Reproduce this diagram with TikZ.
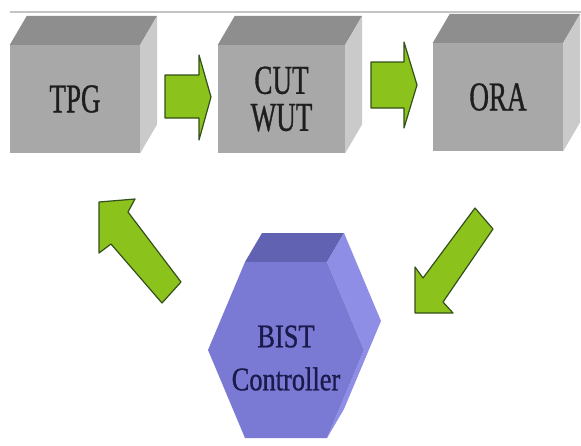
\documentclass[tikz,border=0pt]{standalone}
\usepackage{fontspec}
\usepackage{tikz}
\usetikzlibrary{arrows,positioning,calc}
\newfontfamily\policeboite[FakeStretch=0.66,FakeBold=0.8]{Liberation Serif}
\newfontfamily\policehexa[FakeStretch=0.8,FakeBold=0.8]{Liberation Serif}
\definecolor{grisface}{HTML}{A8A8A8}
\definecolor{grisdessus}{HTML}{8E8E8E}
\definecolor{griscote}{HTML}{CACACA}
\definecolor{grisligne}{HTML}{C4C4C4}
\definecolor{texteboite}{HTML}{1E1E1E}
\definecolor{bleuface}{HTML}{7A7AD4}
\definecolor{bleudessus}{HTML}{6262B2}
\definecolor{bleucote}{HTML}{8E8EE6}
\definecolor{textehexa}{HTML}{1A1A4C}
\definecolor{vertfleche}{HTML}{8CC21C}
\definecolor{vertbord}{HTML}{34501A}

\begin{document}
\begin{tikzpicture}[x=1pt,y=-1pt]
\tikzstyle{boite}=[fill=grisface,minimum width=130pt,minimum height=108pt,inner sep=0pt,align=center,text=texteboite,font=\policeboite\fontsize{41}{37}\selectfont]
\tikzstyle{dessus}=[fill=grisdessus]
\tikzstyle{cote}=[fill=griscote]
\tikzstyle{hexa}=[align=center,text=textehexa,font=\policehexa\fontsize{33}{43}\selectfont]
\tikzstyle{bloc}=[fill=vertfleche,draw=vertbord,line width=1.2pt,line join=round]
\def\Px{17}
\def\Py{-29}
\useasboundingbox (0,0) rectangle (581,445);
\draw[grisligne,line width=2pt] (10,12) -- (581,12);
\node[boite] (TPG) at (75,99) {TPG};
\node[boite,minimum width=127pt] (CUT) at (281.5,99) {CUT\\WUT};
\node[boite] (ORA) at (498,97) {ORA};
\foreach \b in {TPG,CUT,ORA}{
  \fill[dessus] (\b.north west) -- ++(\Px,\Py) -- ($(\b.north east)+(\Px,\Py)$) -- (\b.north east) -- cycle;
  \fill[cote] (\b.north east) -- ++(\Px,\Py) -- ($(\b.south east)+(\Px,\Py)$) -- (\b.south east) -- cycle;
}
\draw[bloc] (165,75) -- (199,75) -- (199,55) -- (211,97) -- (199,140) -- (199,118) -- (165,118) -- cycle;
\draw[bloc] (371,62) -- (404,62) -- (404,42) -- (417,85) -- (404,128) -- (404,108) -- (371,108) -- cycle;
\draw[bloc] (181,282) -- (128,212) -- (135,199) -- (99,202) -- (99,253) -- (111,244) -- (162,303) -- cycle;
\draw[bloc] (475,208) -- (493,229) -- (443,302) -- (453,313) -- (415,313) -- (415,267) -- (423,278) -- cycle;
\fill[bleudessus] (245,262) -- (327,262) -- (344,233) -- (262,233) -- cycle;
\fill[bleucote] (327,262) -- (364,350) -- (327,438) -- (344,409) -- (381,321) -- (344,233) -- cycle;
\fill[bleuface] (245,262) -- (327,262) -- (364,350) -- (327,438) -- (245,438) -- (208,350) -- cycle;
\node[hexa] (BIST) at (286,358) {BIST\\Controller};
\end{tikzpicture}
\end{document}
